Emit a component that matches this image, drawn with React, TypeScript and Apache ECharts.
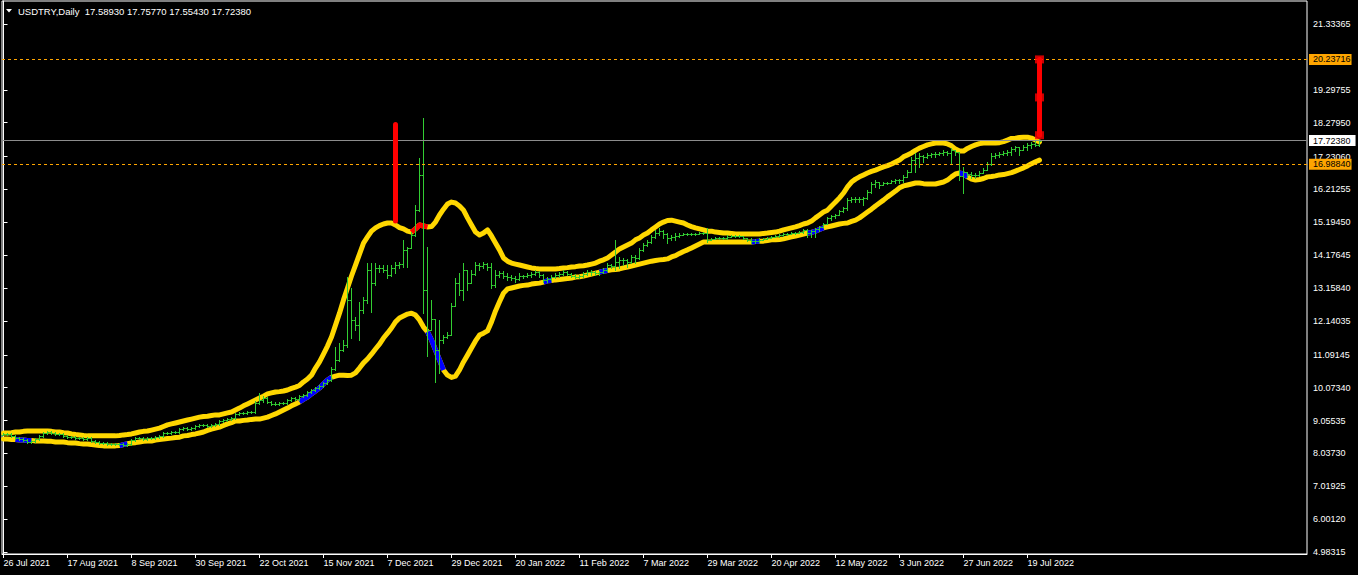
import React, { useEffect, useRef } from "react";
import * as echarts from "echarts";

const symbolName = "USDTRY";
const timeframe = "Daily";

const dateTickIndex = [0, 16, 32, 48, 64, 80, 96, 112, 128, 144, 160, 176, 192, 208, 224, 240, 256];
const dateTickLabels = [
  "26 Jul 2021", "17 Aug 2021", "8 Sep 2021", "30 Sep 2021", "22 Oct 2021", "15 Nov 2021",
  "7 Dec 2021", "29 Dec 2021", "20 Jan 2022", "11 Feb 2022", "7 Mar 2022", "29 Mar 2022",
  "20 Apr 2022", "12 May 2022", "3 Jun 2022", "27 Jun 2022", "19 Jul 2022",
];

const priceTicks = [
  4.98315, 6.0012, 7.01925, 8.0373, 9.05535, 10.0734, 11.09145, 12.14035, 13.1584,
  14.17645, 15.1945, 16.21255, 17.2306, 18.2795, 19.29755, 21.33365,
];

// [open, high, low, close] per daily bar
const ohlc: number[][] = [
  [8.62,8.67,8.60,8.64],[8.64,8.68,8.61,8.64],[8.64,8.66,8.55,8.58],[8.58,8.61,8.48,8.51],[8.51,8.54,8.45,8.48],
  [8.48,8.51,8.42,8.45],[8.45,8.48,8.36,8.39],[8.39,8.45,8.36,8.42],[8.42,8.51,8.39,8.48],[8.48,8.61,8.45,8.58],
  [8.58,8.70,8.55,8.67],[8.67,8.73,8.64,8.70],[8.70,8.73,8.64,8.67],[8.67,8.70,8.61,8.64],[8.64,8.67,8.61,8.64],
  [8.64,8.67,8.55,8.58],[8.58,8.61,8.52,8.55],[8.55,8.58,8.52,8.55],[8.55,8.58,8.48,8.51],[8.51,8.54,8.48,8.51],
  [8.51,8.54,8.45,8.48],[8.48,8.54,8.45,8.51],[8.51,8.54,8.39,8.42],[8.42,8.45,8.36,8.39],[8.39,8.42,8.33,8.36],
  [8.36,8.39,8.33,8.36],[8.36,8.39,8.30,8.33],[8.33,8.36,8.30,8.33],[8.33,8.36,8.30,8.33],[8.33,8.36,8.30,8.33],
  [8.33,8.36,8.27,8.30],[8.30,8.36,8.27,8.33],[8.33,8.48,8.30,8.45],[8.45,8.54,8.42,8.51],[8.51,8.54,8.48,8.51],
  [8.51,8.54,8.45,8.48],[8.48,8.54,8.45,8.51],[8.51,8.54,8.48,8.51],[8.51,8.58,8.48,8.55],[8.55,8.61,8.52,8.58],
  [8.58,8.70,8.55,8.67],[8.67,8.70,8.64,8.67],[8.67,8.73,8.64,8.70],[8.70,8.73,8.67,8.70],[8.70,8.82,8.67,8.79],
  [8.79,8.85,8.76,8.82],[8.82,8.85,8.76,8.79],[8.79,8.85,8.76,8.82],[8.82,8.92,8.79,8.89],[8.89,8.95,8.86,8.92],
  [8.92,8.95,8.89,8.92],[8.92,8.95,8.86,8.89],[8.89,8.95,8.86,8.92],[8.92,8.98,8.89,8.95],[8.95,9.07,8.92,9.04],
  [9.04,9.10,9.01,9.07],[9.07,9.13,9.04,9.10],[9.10,9.16,9.07,9.13],[9.13,9.29,9.10,9.26],[9.26,9.32,9.23,9.29],
  [9.29,9.32,9.26,9.29],[9.29,9.35,9.26,9.32],[9.32,9.35,9.29,9.32],[9.32,9.66,9.29,9.60],[9.60,9.91,9.57,9.69],
  [9.69,9.81,9.63,9.75],[9.75,9.78,9.60,9.63],[9.63,9.66,9.54,9.57],[9.57,9.63,9.54,9.57],[9.57,9.63,9.54,9.60],
  [9.60,9.63,9.57,9.60],[9.60,9.72,9.57,9.69],[9.69,9.78,9.66,9.75],[9.75,9.78,9.69,9.72],[9.72,9.84,9.69,9.81],
  [9.81,9.88,9.78,9.85],[9.85,9.97,9.82,9.94],[9.94,10.03,9.91,10.00],[10.00,10.09,9.97,10.06],[10.06,10.15,10.03,10.12],
  [10.12,10.25,10.09,10.22],[10.22,10.34,10.19,10.31],[10.31,10.71,10.28,10.65],[10.65,11.33,10.62,10.93],[10.93,11.46,10.90,11.24],
  [11.24,11.55,11.20,11.39],[11.39,13.50,11.33,12.79],[12.79,13.16,11.61,12.17],[12.17,12.26,11.86,12.01],[12.01,12.73,11.55,12.48],
  [12.48,12.88,12.38,12.79],[12.79,13.93,12.69,13.72],[13.72,13.93,12.42,13.30],[13.30,13.93,13.25,13.78],[13.78,13.87,13.65,13.78],
  [13.78,13.87,13.65,13.72],[13.72,13.87,13.47,13.56],[13.56,13.87,13.53,13.78],[13.78,13.96,13.62,13.87],[13.87,13.96,13.78,13.90],
  [13.90,14.65,13.81,14.34],[14.34,14.43,13.81,14.40],[14.40,14.89,14.40,14.80],[14.80,15.73,14.78,15.57],[15.57,17.18,15.55,16.66],
  [16.66,18.42,12.38,13.10],[13.10,14.43,11.05,11.86],[11.86,12.79,11.86,12.20],[12.20,12.20,10.25,11.24],[11.24,12.17,10.53,11.55],
  [11.55,11.70,11.46,11.64],[11.64,11.80,11.60,11.70],[11.70,12.69,11.70,12.60],[12.60,13.47,12.60,13.30],[13.30,13.62,12.94,13.10],
  [13.10,13.93,12.79,13.72],[13.72,13.72,13.10,13.31],[13.31,13.72,13.30,13.59],[13.59,13.96,13.56,13.87],[13.87,13.93,13.72,13.84],
  [13.84,13.96,13.78,13.90],[13.90,13.93,13.72,13.81],[13.81,13.93,13.16,13.25],[13.25,13.72,13.19,13.56],[13.56,13.68,13.50,13.62],
  [13.62,13.68,13.47,13.53],[13.53,13.62,13.41,13.50],[13.50,13.56,13.41,13.47],[13.47,13.53,13.34,13.44],[13.44,13.62,13.41,13.53],
  [13.53,13.56,13.47,13.53],[13.53,13.62,13.50,13.56],[13.56,13.65,13.50,13.59],[13.59,13.72,13.56,13.65],[13.65,13.68,13.50,13.56],
  [13.56,13.59,13.34,13.41],[13.41,13.50,13.34,13.44],[13.44,13.56,13.41,13.50],[13.50,13.62,13.48,13.56],[13.56,13.65,13.50,13.59],
  [13.59,13.72,13.56,13.65],[13.65,13.68,13.56,13.59],[13.59,13.62,13.50,13.53],[13.53,13.59,13.47,13.50],[13.50,13.56,13.47,13.53],
  [13.53,13.65,13.50,13.59],[13.59,13.72,13.56,13.65],[13.65,13.72,13.56,13.65],[13.65,13.68,13.56,13.62],[13.62,13.68,13.56,13.65],
  [13.65,13.78,13.62,13.72],[13.72,13.93,13.70,13.87],[13.87,13.90,13.78,13.84],[13.84,14.65,13.72,13.96],[13.96,14.12,13.78,14.03],
  [14.03,14.09,13.87,14.03],[14.03,14.06,13.81,13.96],[13.96,14.18,13.94,14.12],[14.12,14.18,13.93,14.09],[14.09,14.40,14.06,14.34],
  [14.34,14.55,14.32,14.49],[14.49,14.65,14.46,14.58],[14.58,14.80,14.56,14.74],[14.74,14.95,14.72,14.86],[14.86,15.02,14.80,14.92],
  [14.92,14.95,14.71,14.83],[14.83,14.86,14.55,14.71],[14.71,14.80,14.65,14.74],[14.74,14.86,14.65,14.77],[14.77,14.86,14.74,14.80],
  [14.80,14.86,14.80,14.83],[14.83,14.86,14.80,14.83],[14.83,14.86,14.80,14.83],[14.83,14.86,14.80,14.83],[14.83,14.89,14.83,14.86],
  [14.86,14.89,14.83,14.86],[14.86,15.02,14.58,14.65],[14.65,14.71,14.65,14.68],[14.68,14.74,14.68,14.71],[14.71,14.74,14.68,14.71],
  [14.71,14.74,14.68,14.71],[14.71,14.80,14.68,14.74],[14.74,14.80,14.74,14.77],[14.77,14.80,14.74,14.77],[14.77,14.80,14.74,14.77],
  [14.77,14.78,14.68,14.71],[14.71,14.71,14.61,14.65],[14.65,14.71,14.55,14.61],[14.61,14.68,14.55,14.61],[14.61,14.71,14.58,14.65],
  [14.65,14.71,14.65,14.68],[14.68,14.74,14.68,14.71],[14.71,14.77,14.71,14.74],[14.74,14.80,14.74,14.77],[14.77,14.83,14.74,14.80],
  [14.80,14.86,14.77,14.83],[14.83,14.86,14.80,14.83],[14.83,14.89,14.83,14.86],[14.86,14.89,14.83,14.86],[14.86,14.92,14.86,14.89],
  [14.89,14.98,14.86,14.95],[14.95,14.98,14.74,14.86],[14.86,14.95,14.74,14.92],[14.92,15.02,14.74,14.98],[14.98,15.08,14.92,15.05],
  [15.05,15.17,15.05,15.14],[15.14,15.36,15.14,15.33],[15.33,15.42,15.27,15.39],[15.39,15.45,15.33,15.42],[15.42,15.57,15.42,15.54],
  [15.54,15.67,15.51,15.64],[15.64,15.95,15.57,15.88],[15.88,15.98,15.82,15.91],[15.91,15.98,15.82,15.91],[15.91,15.98,15.82,15.91],
  [15.91,15.98,15.73,15.95],[15.95,16.19,15.93,16.13],[16.13,16.44,16.10,16.38],[16.38,16.50,16.29,16.44],[16.44,16.45,16.26,16.35],
  [16.35,16.44,16.35,16.41],[16.41,16.44,16.38,16.41],[16.41,16.50,16.41,16.47],[16.47,16.53,16.41,16.50],[16.50,16.53,16.41,16.50],
  [16.50,16.66,16.44,16.60],[16.60,16.81,16.60,16.75],[16.75,17.22,16.75,17.12],[17.12,17.34,16.75,17.18],[17.18,17.34,16.91,17.25],
  [17.25,17.28,17.06,17.22],[17.22,17.34,17.18,17.28],[17.28,17.34,17.22,17.31],[17.31,17.37,17.22,17.31],[17.31,17.37,17.28,17.34],
  [17.34,17.43,17.28,17.37],[17.37,17.40,17.28,17.34],[17.34,17.49,17.03,17.43],[17.43,17.43,17.28,17.37],[17.37,17.37,16.50,16.63],
  [16.63,16.91,16.10,16.75],[16.75,16.75,16.60,16.69],[16.69,16.75,16.57,16.66],[16.66,16.72,16.57,16.66],[16.66,16.78,16.63,16.72],
  [16.72,16.87,16.72,16.81],[16.81,17.06,16.81,17.00],[17.00,17.34,16.98,17.25],[17.25,17.34,17.18,17.28],[17.28,17.37,17.22,17.31],
  [17.31,17.40,17.28,17.34],[17.34,17.43,17.28,17.37],[17.37,17.52,17.28,17.46],[17.46,17.56,17.40,17.53],[17.53,17.53,17.28,17.43],
  [17.43,17.59,17.43,17.53],[17.53,17.65,17.43,17.59],[17.59,17.68,17.49,17.62],[17.62,17.74,17.56,17.5893],[17.5893,17.7577,17.5543,17.7238],
];

const upperBand = [
  8.67,8.67,8.68,8.70,8.70,8.72,8.73,8.73,8.73,8.73,
  8.73,8.73,8.72,8.70,8.70,8.68,8.67,8.64,8.62,8.61,
  8.59,8.58,8.58,8.58,8.58,8.58,8.58,8.58,8.58,8.59,
  8.61,8.62,8.64,8.67,8.70,8.72,8.73,8.76,8.79,8.82,
  8.87,8.92,8.95,8.98,9.01,9.04,9.07,9.10,9.13,9.16,
  9.18,9.19,9.21,9.23,9.23,9.26,9.29,9.32,9.38,9.44,
  9.51,9.57,9.63,9.69,9.75,9.81,9.88,9.91,9.94,9.95,
  9.97,10.00,10.05,10.09,10.14,10.25,10.34,10.46,10.68,10.87,
  11.11,11.36,11.64,12.01,12.38,12.79,13.16,13.53,13.87,14.21,
  14.55,14.74,14.92,15.02,15.09,15.14,15.17,15.17,15.11,15.03,
  14.99,14.92,14.89,14.99,15.11,15.08,15.05,15.06,15.20,15.42,
  15.60,15.76,15.82,15.79,15.70,15.57,15.33,15.11,14.89,14.80,
  14.86,14.96,14.77,14.55,14.34,14.09,13.99,13.93,13.90,13.87,
  13.84,13.81,13.78,13.76,13.75,13.75,13.75,13.75,13.75,13.76,
  13.78,13.79,13.81,13.82,13.84,13.85,13.87,13.90,13.93,13.99,
  14.03,14.09,14.18,14.27,14.37,14.43,14.49,14.55,14.65,14.71,
  14.80,14.86,14.96,15.05,15.14,15.20,15.25,15.26,15.23,15.20,
  15.17,15.11,15.06,15.02,14.99,14.96,14.92,14.92,14.89,14.88,
  14.86,14.86,14.85,14.83,14.83,14.83,14.83,14.83,14.83,14.83,
  14.85,14.86,14.88,14.89,14.92,14.96,14.99,15.02,15.05,15.09,
  15.14,15.17,15.23,15.33,15.42,15.51,15.57,15.70,15.82,15.95,
  16.10,16.29,16.44,16.53,16.60,16.66,16.72,16.77,16.81,16.86,
  16.91,16.95,17.00,17.06,17.12,17.22,17.28,17.34,17.42,17.49,
  17.54,17.59,17.62,17.65,17.65,17.65,17.62,17.56,17.46,17.40,
  17.40,17.48,17.54,17.59,17.63,17.65,17.65,17.65,17.65,17.66,
  17.69,17.74,17.79,17.80,17.82,17.83,17.83,17.80,17.74,17.68,
];

const lowerBand = [
  8.48,8.48,8.47,8.47,8.45,8.45,8.44,8.44,8.42,8.42,
  8.42,8.41,8.41,8.39,8.39,8.39,8.37,8.36,8.36,8.34,
  8.33,8.33,8.31,8.30,8.28,8.27,8.27,8.27,8.27,8.28,
  8.31,8.34,8.36,8.37,8.39,8.41,8.42,8.42,8.45,8.47,
  8.48,8.50,8.51,8.53,8.54,8.58,8.59,8.62,8.64,8.67,
  8.70,8.75,8.79,8.82,8.85,8.90,8.95,8.99,9.04,9.04,
  9.06,9.07,9.09,9.10,9.10,9.13,9.16,9.21,9.26,9.32,
  9.38,9.44,9.51,9.57,9.63,9.71,9.78,9.88,9.97,10.06,
  10.19,10.31,10.39,10.43,10.46,10.46,10.45,10.46,10.53,10.68,
  10.84,10.96,11.11,11.27,11.42,11.61,11.76,11.92,12.11,12.23,
  12.29,12.35,12.38,12.32,12.17,11.95,11.80,11.55,11.24,10.93,
  10.62,10.46,10.39,10.43,10.62,10.87,11.08,11.30,11.52,11.70,
  11.76,11.83,12.11,12.45,12.73,13.00,13.13,13.16,13.19,13.22,
  13.24,13.25,13.28,13.30,13.31,13.34,13.38,13.39,13.41,13.42,
  13.44,13.45,13.47,13.50,13.51,13.53,13.56,13.59,13.62,13.65,
  13.68,13.70,13.72,13.73,13.75,13.78,13.81,13.84,13.87,13.90,
  13.93,13.96,13.99,14.01,14.03,14.04,14.06,14.12,14.16,14.23,
  14.29,14.34,14.40,14.46,14.52,14.58,14.58,14.58,14.58,14.58,
  14.58,14.58,14.58,14.58,14.58,14.58,14.58,14.58,14.60,14.61,
  14.61,14.63,14.65,14.65,14.66,14.68,14.71,14.74,14.77,14.80,
  14.83,14.86,14.88,14.92,14.97,15.02,15.05,15.08,15.11,15.14,
  15.16,15.17,15.22,15.26,15.33,15.42,15.51,15.60,15.70,15.79,
  15.88,15.98,16.07,16.16,16.26,16.32,16.35,16.38,16.41,16.41,
  16.39,16.38,16.38,16.38,16.41,16.44,16.50,16.60,16.69,16.72,
  16.69,16.60,16.53,16.50,16.52,16.55,16.60,16.61,16.63,16.66,
  16.67,16.70,16.73,16.78,16.83,16.88,16.94,17.01,17.07,17.12,
];

// bar-index ranges where the band is recoloured
const lowerTouchRanges = [[3, 7], [29, 31], [74, 82], [106, 110], [135, 137], [149, 151], [187, 189], [201, 205], [239, 241]];
const upperTouchRanges = [[102, 106]];

// vertical signal lines: [bar index, from price, to price]
const signalLines = [[98, 15.23, 18.22], [259, 17.89, 20.23716]];
const signalMarks = [[259, 17.89], [259, 19.06], [259, 20.23716]];

const levelUpper = 20.23716;
const levelLower = 16.9884;

const FONT = "'Liberation Sans', Arial, sans-serif";
const BAR_COLOR = "#32CD32";
const BAND_COLOR = "#FFD700";
const ORANGE = "#FFA500";

export default function App() {
  const ref = useRef<HTMLDivElement>(null);

  useEffect(() => {
    if (!ref.current) return;
    const chart = echarts.init(ref.current, null, { renderer: "svg" });
    const last = ohlc[ohlc.length - 1];
    const bid = last[3];
    const title = `${symbolName},${timeframe}  ${last.map((v) => v.toFixed(5)).join(" ")}`;

    const barData = ohlc.map((b, i) => [i, b[0], b[1], b[2], b[3]]);
    const upperData = upperBand.map((v, i) => [i, v]);
    const lowerData = lowerBand.map((v, i) => [i, v]);

    const segSeries = (band: number[], ranges: number[][], color: string) =>
      ranges.map(([a, b]) => ({
        type: "line",
        data: band.slice(a, b + 1).map((v, k) => [a + k, v]),
        showSymbol: false,
        symbol: "none",
        silent: true,
        z: 3,
        lineStyle: { color, width: 5, cap: "butt", join: "round" },
      }));

    const labelBox = (value: number, bg: string, padRight: number) => ({
      show: true,
      position: "end",
      distance: 2,
      formatter: () => value.toFixed(5),
      color: "#000",
      backgroundColor: bg,
      padding: [1, padRight, 1, 4],
      fontSize: 9,
      lineHeight: 9,
      fontFamily: FONT,
    });

    const option: any = {
      animation: false,
      backgroundColor: "#000",
      grid: {
        left: 2,
        right: 51,
        top: 1,
        bottom: 21,
        show: true,
        borderColor: "#ffffff",
        borderWidth: 1,
        backgroundColor: "transparent",
        containLabel: false,
        outerBoundsMode: "none",
      },
      xAxis: {
        type: "value",
        min: -0.375,
        max: 325.875,
        splitLine: { show: false },
        axisLine: { show: true, lineStyle: { color: "#ffffff", width: 1 } },
        axisTick: { show: true, customValues: dateTickIndex, length: 4, lineStyle: { color: "#ffffff" } },
        axisLabel: {
          customValues: dateTickIndex,
          formatter: (v: number) => {
            const k = dateTickIndex.indexOf(Math.round(v));
            return k >= 0 ? dateTickLabels[k] : "";
          },
          align: "left",
          color: "#ffffff",
          fontSize: 9,
          fontFamily: FONT,
          margin: 4,
        },
      },
      yAxis: {
        type: "value",
        position: "right",
        min: 4.922,
        max: 22.046,
        scale: true,
        splitLine: { show: false },
        axisLine: { show: true, lineStyle: { color: "#ffffff", width: 1 } },
        axisTick: { show: true, customValues: priceTicks, length: 4, lineStyle: { color: "#ffffff" } },
        axisLabel: {
          customValues: priceTicks,
          formatter: (v: number) => v.toFixed(5),
          color: "#ffffff",
          fontSize: 9,
          fontFamily: FONT,
          margin: 6,
        },
      },
      graphic: [
        {
          type: "polygon",
          shape: { points: [[6, 9], [12, 9], [9, 12.5]] },
          style: { fill: "#ffffff" },
          z: 100,
        },
        {
          type: "text",
          x: 18,
          y: 11,
          style: {
            text: title,
            fill: "#ffffff",
            fontSize: 9.5,
            fontFamily: FONT,
            verticalAlign: "middle",
            align: "left",
          },
          z: 100,
        },
      ],
      series: [
        {
          type: "line",
          data: [],
          z: 1,
          silent: true,
          markLine: {
            silent: true,
            symbol: ["none", "none"],
            precision: 5,
            animation: false,
            data: [
              { yAxis: levelUpper, lineStyle: { color: ORANGE, type: [3, 3], width: 1 }, label: labelBox(levelUpper, ORANGE, 1) },
              { yAxis: bid, lineStyle: { color: "#8c8c8c", type: "solid", width: 1 }, label: labelBox(bid, "#ffffff", 5) },
              { yAxis: levelLower, lineStyle: { color: ORANGE, type: [3, 3], width: 1 }, label: labelBox(levelLower, ORANGE, 1) },
            ],
          },
        },
        {
          type: "line",
          data: upperData,
          showSymbol: false,
          symbol: "none",
          silent: true,
          z: 2,
          lineStyle: { color: BAND_COLOR, width: 5, join: "round", cap: "round" },
        },
        {
          type: "line",
          data: lowerData,
          showSymbol: false,
          symbol: "none",
          silent: true,
          z: 2,
          lineStyle: { color: BAND_COLOR, width: 5, join: "round", cap: "round" },
        },
        ...segSeries(lowerBand, lowerTouchRanges, "#0000FF"),
        ...segSeries(upperBand, upperTouchRanges, "#FF0000"),
        {
          type: "custom",
          data: barData,
          encode: { x: 0, y: [1, 2, 3, 4] },
          z: 4,
          silent: true,
          renderItem: (params: any, api: any) => {
            const i = api.value(0);
            const po = api.coord([i, api.value(1)]);
            const ph = api.coord([i, api.value(2)]);
            const pl = api.coord([i, api.value(3)]);
            const pc = api.coord([i, api.value(4)]);
            const x = Math.floor(ph[0]) + 0.5;
            const style = { stroke: BAR_COLOR, lineWidth: 1 };
            const yo = Math.round(po[1]) + 0.5;
            const yc = Math.round(pc[1]) + 0.5;
            return {
              type: "group",
              children: [
                { type: "line", shape: { x1: x, y1: Math.round(ph[1]), x2: x, y2: Math.round(pl[1]) + 1 }, style },
                { type: "line", shape: { x1: x - 2, y1: yo, x2: x, y2: yo }, style },
                { type: "line", shape: { x1: x, y1: yc, x2: x + 2, y2: yc }, style },
              ],
            };
          },
        },
        {
          type: "custom",
          data: signalLines,
          encode: { x: 0, y: [1, 2] },
          z: 5,
          silent: true,
          renderItem: (params: any, api: any) => {
            const i = api.value(0);
            const a = api.coord([i, api.value(1)]);
            const b = api.coord([i, api.value(2)]);
            return {
              type: "line",
              shape: { x1: a[0], y1: a[1], x2: b[0], y2: b[1] },
              style: { stroke: "#FF0000", lineWidth: 5, lineCap: "round" },
            };
          },
        },
        {
          type: "scatter",
          data: signalMarks,
          symbol: "rect",
          symbolSize: [9, 8],
          itemStyle: { color: "#FF0000" },
          silent: true,
          z: 6,
        },
      ],
    };

    chart.setOption(option);
    return () => chart.dispose();
  }, []);

  return (
    <div
      ref={ref}
      style={{ position: "absolute", left: 0, top: 0, width: 1358, height: 575, background: "#000" }}
    />
  );
}
